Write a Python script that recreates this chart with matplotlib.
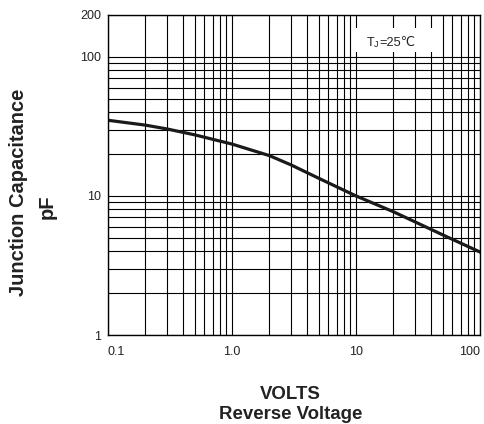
import matplotlib
matplotlib.use("Agg")
import matplotlib.pyplot as plt
from matplotlib.patches import Rectangle
from matplotlib.ticker import LogLocator, NullFormatter

# junction capacitance vs reverse voltage
volts = [0.1, 0.2, 0.3, 0.5, 1.0, 2.0, 3.0, 5.0, 10, 20, 30, 50, 100]
cap_pf = [35.0, 32.3, 30.3, 27.5, 23.6, 19.5, 16.7, 13.4, 10.0, 7.7, 6.5, 5.25, 3.95]

x_ticks = [0.1, 1.0, 10, 100]
x_tick_labels = ["0.1", "1.0", "10", "100"]
y_ticks = [1, 10, 100, 200]
y_tick_labels = ["1", "10", "100", "200"]

plt.rcParams["font.family"] = ["Liberation Sans", "DejaVu Sans"]
TXT = "#222222"

W, H = 485, 424
fig = plt.figure(figsize=(W / 100, H / 100), dpi=100)
ax = fig.add_axes([108 / W, 1 - 335 / H, 372 / W, 320 / H])

ax.set_xscale("log")
ax.set_yscale("log")
ax.set_xlim(0.1, 100)
ax.set_ylim(1, 200)

ax.plot(volts, cap_pf, color="#1a1a1a", lw=2.3, solid_joinstyle="round", zorder=2)

ax.xaxis.set_minor_locator(LogLocator(base=10, subs=range(2, 10)))
ax.yaxis.set_minor_locator(LogLocator(base=10, subs=range(2, 10)))
ax.xaxis.set_minor_formatter(NullFormatter())
ax.yaxis.set_minor_formatter(NullFormatter())
ax.set_xticks(x_ticks)
ax.set_xticklabels(x_tick_labels)
ax.set_yticks(y_ticks)
ax.set_yticklabels(y_tick_labels)
ax.grid(True, which="both", color="black", lw=0.8)
ax.tick_params(which="both", length=0, labelsize=9, colors=TXT)
ax.tick_params(axis="x", pad=8)
ax.tick_params(axis="y", pad=5)
xl = ax.get_xticklabels()
xl[0].set_ha("left")
xl[-1].set_ha("right")
for sp in ax.spines.values():
    sp.set_color("black")
    sp.set_linewidth(1.0)

# white box behind the temperature note
ax.add_patch(Rectangle((0.656, 0.884), 0.218, 0.075, transform=ax.transAxes,
                       facecolor="white", edgecolor="none", zorder=3))
t1 = ax.text(0.695, 0.903, "T", transform=ax.transAxes, ha="left", va="baseline",
             fontsize=9.2, color=TXT, zorder=4)
t2 = ax.annotate("J", xy=(1, 0), xycoords=t1, ha="left", va="bottom",
                 fontsize=6.5, color=TXT, zorder=4)
ax.annotate("=25℃", xy=(1, 0), xycoords=t2, xytext=(0.5, 0), textcoords="offset points",
            ha="left", va="bottom", fontsize=9.2, color=TXT, zorder=4)

fig.text(290 / W, 1 - 399 / H, "VOLTS", ha="center", va="baseline",
         fontsize=13.4, fontweight="bold", color=TXT)
fig.text(291 / W, 1 - 419 / H, "Reverse Voltage", ha="center", va="baseline",
         fontsize=13.4, fontweight="bold", color=TXT)
fig.text(24 / W, 1 - 192 / H, "Junction Capacitance", rotation=90, rotation_mode="anchor",
         ha="center", va="baseline", fontsize=14.5, fontweight="bold", color=TXT)
fig.text(53 / W, 1 - 207 / H, "pF", rotation=90, rotation_mode="anchor",
         ha="center", va="baseline", fontsize=14.5, fontweight="bold", color=TXT)

fig.savefig("out.png", dpi=100)
